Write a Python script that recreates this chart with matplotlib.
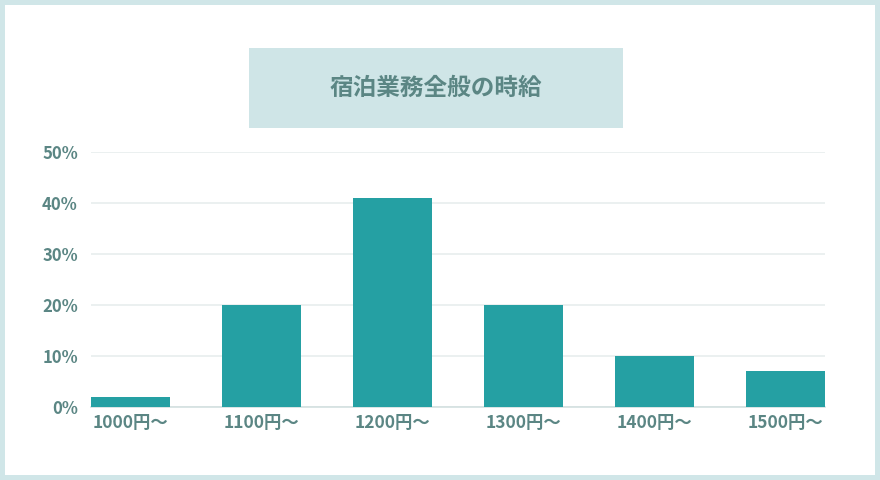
import matplotlib
matplotlib.use("Agg")
import matplotlib.pyplot as plt
from matplotlib.patches import Rectangle

plt.rcParams['font.family'] = ['Noto Sans CJK JP', 'DejaVu Sans']

# data
categories = ['1000円〜', '1100円〜', '1200円〜', '1300円〜', '1400円〜', '1500円〜']
shares = [2, 20, 41, 20, 10, 7]  # percent
y_ticks = [0, 10, 20, 30, 40, 50]
title = '宿泊業務全般の時給'

bar_color = '#25a0a3'
text_color = '#5b8684'
frame_color = '#d0e6e8'

W, H = 880, 480
fig = plt.figure(figsize=(W / 100, H / 100), dpi=100)
fig.patch.set_facecolor(frame_color)

# white card inside the light frame, title box on top of it
fig.patches.append(Rectangle((5 / W, 5 / H), 870 / W, 470 / H, transform=fig.transFigure,
                             facecolor='white', edgecolor='none', zorder=-2))
fig.patches.append(Rectangle((249 / W, (H - 128) / H), 374 / W, 80 / H, transform=fig.transFigure,
                             facecolor='#cfe5e7', edgecolor='none', zorder=-1))
fig.text(436 / W, (H - 88) / H, title, ha='center', va='center', fontsize=17,
         fontweight='bold', color=text_color)

ax = fig.add_axes([91 / W, (H - 407) / H, 734 / W, 255 / H])
ax.set_facecolor('none')
x = range(len(categories))
ax.bar(x, shares, width=0.6, color=bar_color, zorder=3)

ax.set_xlim(-0.3, len(categories) - 0.7)
ax.set_ylim(0, 50)
ax.set_yticks(y_ticks)
ax.set_yticklabels([f'{v}%' for v in y_ticks])
ax.set_xticks(list(x))
ax.set_xticklabels(categories)

ax.grid(axis='y', color='#e8eeee', linewidth=1.2, zorder=0)
for s in ['top', 'right', 'left']:
    ax.spines[s].set_visible(False)
ax.spines['bottom'].set_color('#d3e0e0')
ax.spines['bottom'].set_linewidth(1.2)
ax.tick_params(axis='both', length=0, labelsize=12.5, labelcolor=text_color)
ax.tick_params(axis='y', labelsize=12, pad=9.5)
ax.tick_params(axis='x', pad=5)
for lab in ax.get_xticklabels() + ax.get_yticklabels():
    lab.set_fontweight('bold')

fig.savefig('out.png', dpi=100, facecolor=fig.get_facecolor())
